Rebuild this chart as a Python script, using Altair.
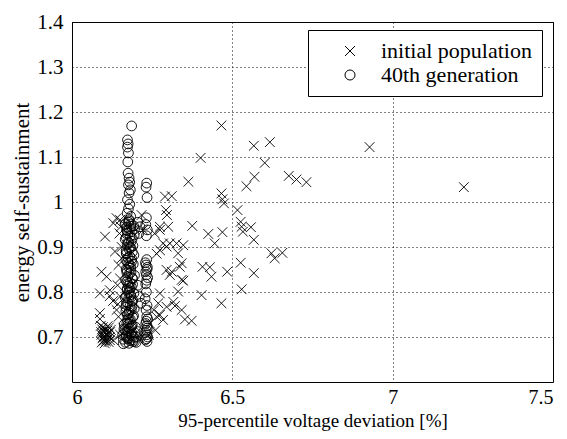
import altair as alt
import pandas as pd

# initial population (x = 95-percentile voltage deviation [%], y = energy self-sustainment)
init_x = [6.466, 6.567, 6.617, 6.401, 6.601, 6.569, 6.544, 6.676, 6.700, 6.731,
          6.363, 6.466, 6.469, 6.474, 6.516, 6.526, 6.529, 6.558, 6.375, 6.425,
          6.469, 6.533, 6.567, 6.445, 6.347, 6.622, 6.632, 6.656, 6.526, 6.342,
          6.407, 6.430, 6.435, 6.484, 6.567, 6.347, 6.529, 6.404, 6.466, 6.352,
          6.373, 6.342, 6.928, 7.222,
          6.290, 6.311, 6.293, 6.296, 6.139, 6.103, 6.129, 6.150, 6.134, 6.092,
          6.108, 6.118, 6.087, 6.264, 6.274, 6.300, 6.305, 6.326, 6.331, 6.336,
          6.311, 6.342, 6.331, 6.274, 6.118, 6.128, 6.143, 6.087, 6.269, 6.295,
          6.316, 6.274, 6.284, 6.129, 6.284, 6.274, 6.295, 6.274, 6.295, 6.305,
          6.321, 6.264, 6.243, 6.087, 6.090, 6.139, 6.217, 6.222, 6.258, 6.150,
          6.145, 6.155, 6.160, 6.150, 6.210, 6.240, 6.260, 6.255,
          6.145, 6.150, 6.142, 6.155, 6.148, 6.152,
          6.095, 6.101, 6.108, 6.113, 6.098, 6.104, 6.117, 6.092, 6.110, 6.106,
          6.099, 6.115, 6.094, 6.103, 6.112, 6.097, 6.107, 6.119, 6.100, 6.109,
          6.093, 6.121, 6.096, 6.118, 6.102, 6.111, 6.091, 6.114]
init_y = [1.170, 1.125, 1.133, 1.098, 1.087, 1.056, 1.035, 1.058, 1.050, 1.044,
          1.045, 1.019, 1.006, 0.997, 0.982, 0.956, 0.945, 0.944, 0.947, 0.929,
          0.933, 0.934, 0.916, 0.908, 0.904, 0.886, 0.875, 0.887, 0.865, 0.864,
          0.856, 0.855, 0.834, 0.845, 0.842, 0.825, 0.806, 0.793, 0.775, 0.739,
          0.736, 0.760, 1.122, 1.033,
          1.012, 1.013, 0.982, 0.971, 0.964, 0.923, 0.953, 0.960, 0.890, 0.845,
          0.834, 0.804, 0.797, 0.885, 0.945, 0.945, 0.908, 0.908, 0.886, 0.856,
          0.845, 0.827, 0.801, 0.797, 0.791, 0.780, 0.773, 0.753, 0.775, 0.767,
          0.778, 0.749, 0.738, 0.693, 0.908, 0.893, 0.901, 0.938, 0.849, 0.838,
          0.769, 0.745, 0.730, 0.740, 0.725, 0.760, 0.971, 0.938, 0.930, 0.830,
          0.860, 0.900, 0.720, 0.705, 0.700, 0.705, 0.715, 0.760,
          0.745, 0.790, 0.815, 0.875, 0.930, 0.945,
          0.697, 0.702, 0.695, 0.708, 0.712, 0.718, 0.699, 0.705, 0.714, 0.690,
          0.692, 0.721, 0.717, 0.709, 0.703, 0.700, 0.712, 0.711, 0.694, 0.706,
          0.688, 0.716, 0.722, 0.693, 0.686, 0.724, 0.711, 0.689]

# 40th generation
gen_x = [6.186, 6.173, 6.175, 6.173, 6.176, 6.174, 6.175, 6.178, 6.180, 6.176,
         6.182, 6.178, 6.173, 6.180, 6.176, 6.172, 6.183, 6.178,
         6.176, 6.184, 6.171, 6.179, 6.186, 6.174, 6.181, 6.169, 6.185, 6.177,
         6.172, 6.183, 6.178, 6.188, 6.170, 6.180, 6.175, 6.186, 6.173, 6.182,
         6.177, 6.169, 6.184, 6.179, 6.174, 6.188, 6.171, 6.181, 6.176, 6.185,
         6.172, 6.179, 6.183, 6.170, 6.177, 6.187, 6.174, 6.181, 6.168, 6.185,
         6.178, 6.173, 6.189, 6.176, 6.182, 6.171, 6.186, 6.179, 6.174, 6.183,
         6.177, 6.190,
         6.167, 6.192, 6.170, 6.194, 6.166, 6.190, 6.169, 6.193, 6.168, 6.191,
         6.171, 6.195, 6.167, 6.189, 6.172, 6.193, 6.166, 6.190, 6.170, 6.194,
         6.168, 6.192, 6.173, 6.188, 6.165, 6.196, 6.170, 6.191, 6.167, 6.194,
         6.178, 6.184, 6.172, 6.188, 6.175, 6.181, 6.169, 6.186, 6.177, 6.183,
         6.171, 6.189, 6.174, 6.180, 6.176, 6.185, 6.170, 6.187, 6.179, 6.173,
         6.182, 6.176, 6.184, 6.171, 6.188, 6.175, 6.180, 6.168, 6.186, 6.178,
         6.233, 6.231, 6.234, 6.232, 6.230, 6.235, 6.232, 6.233, 6.231, 6.234,
         6.232, 6.233, 6.230, 6.232, 6.228, 6.234, 6.231, 6.233, 6.232, 6.234,
         6.231, 6.233, 6.232, 6.234,
         6.236, 6.229, 6.235, 6.230, 6.236, 6.229, 6.235, 6.230, 6.236, 6.229,
         6.205, 6.212, 6.208, 6.210, 6.215, 6.205, 6.200, 6.205, 6.160, 6.158,
         6.162, 6.195, 6.165, 6.195, 6.163, 6.198, 6.160, 6.200]
gen_y = [1.169, 1.138, 1.129, 1.122, 1.109, 1.089, 1.064, 1.053, 1.044, 1.038,
         1.027, 1.020, 1.005, 0.995, 0.985, 0.975, 0.968, 0.961,
         0.955, 0.951, 0.944, 0.941, 0.934, 0.930, 0.924, 0.921, 0.913, 0.909,
         0.906, 0.898, 0.895, 0.889, 0.885, 0.879, 0.876, 0.868, 0.866, 0.859,
         0.855, 0.851, 0.844, 0.841, 0.834, 0.831, 0.823, 0.821, 0.814, 0.811,
         0.804, 0.801, 0.794, 0.791, 0.786, 0.779, 0.776, 0.769, 0.766, 0.761,
         0.754, 0.751, 0.744, 0.741, 0.734, 0.731, 0.724, 0.719, 0.714, 0.706,
         0.698, 0.690,
         0.952, 0.947, 0.938, 0.927, 0.917, 0.903, 0.892, 0.882, 0.871, 0.862,
         0.848, 0.837, 0.827, 0.817, 0.807, 0.797, 0.788, 0.781, 0.772, 0.763,
         0.757, 0.747, 0.738, 0.727, 0.716, 0.709, 0.702, 0.694, 0.688, 0.699,
         0.958, 0.946, 0.936, 0.919, 0.911, 0.900, 0.887, 0.874, 0.863, 0.853,
         0.843, 0.829, 0.819, 0.809, 0.799, 0.789, 0.777, 0.768, 0.759, 0.749,
         0.739, 0.729, 0.721, 0.711, 0.703, 0.696, 0.692, 0.700, 0.710, 0.686,
         1.042, 1.033, 1.010, 0.965, 0.950, 0.938, 0.925, 0.872, 0.860, 0.850,
         0.838, 0.826, 0.818, 0.800, 0.785, 0.770, 0.760, 0.745, 0.735, 0.725,
         0.715, 0.705, 0.696, 0.690,
         0.700, 0.710, 0.720, 0.730, 0.740, 0.865, 0.855, 0.845, 0.832, 0.694,
         0.955, 0.945, 0.930, 0.790, 0.775, 0.815, 0.700, 0.712, 0.695, 0.705,
         0.718, 0.690, 0.950, 0.940, 0.728, 0.722, 0.685, 0.688]

series = ["initial population", "40th generation"]

df = pd.concat([
    pd.DataFrame({"x": init_x, "y": init_y, "s": series[0]}),
    pd.DataFrame({"x": gen_x, "y": gen_y, "s": series[1]}),
], ignore_index=True)

FONT = "Liberation Serif"
XPATH = "M-1,-1L1,1M-1,1L1,-1"

chart = alt.Chart(df).mark_point(filled=False, strokeWidth=0.9, opacity=1, size=95).encode(
    x=alt.X("x:Q", scale=alt.Scale(domain=[6, 7.5], nice=False, zero=False),
            axis=alt.Axis(values=[6, 6.5, 7, 7.5], format="~g",
                          title="95-percentile voltage deviation [%]",
                          titleY=44, titleBaseline="alphabetic")),
    y=alt.Y("y:Q", scale=alt.Scale(domain=[0.6, 1.4], nice=False, zero=False),
            axis=alt.Axis(values=[0.7, 0.8, 0.9, 1.0, 1.1, 1.2, 1.3, 1.4], format="~g",
                          title="energy self-sustainment")),
    shape=alt.Shape("s:N", sort=series,
                    scale=alt.Scale(domain=series, range=[XPATH, "circle"]),
                    legend=alt.Legend(title=None, orient="none", legendX=236, legendY=8,
                                      strokeColor="black", fillColor="white",
                                      padding=10, symbolOffset=21, labelOffset=20,
                                      rowPadding=2, symbolSize=100,
                                      symbolStrokeColor="black", symbolStrokeWidth=1,
                                      symbolFillColor="transparent", symbolType="circle",
                                      labelFont=FONT, labelFontSize=22, labelColor="black",
                                      labelLimit=400)),
    color=alt.value("black"),
).properties(
    width=481, height=360,
    background="white",
    autosize=alt.AutoSizeParams(type="none"),
    padding={"left": 64, "top": 14, "right": 6, "bottom": 49},
).configure_view(
    stroke="black", strokeWidth=1
).configure_axis(
    grid=True, gridColor="black", gridDash=[1, 3], gridWidth=1, gridOpacity=1,
    ticks=False, domain=False,
    labelFont=FONT, labelFontSize=21, labelColor="black",
    titleFont=FONT, titleFontSize=19, titleColor="black", titleFontWeight="normal",
).configure_axisX(
    labelPadding=5, labelFontSize=20
).configure_axisY(
    labelPadding=9, titlePadding=4, titleFontSize=21
)

chart.save("out.html", embed_options={"renderer": "svg", "actions": False})
